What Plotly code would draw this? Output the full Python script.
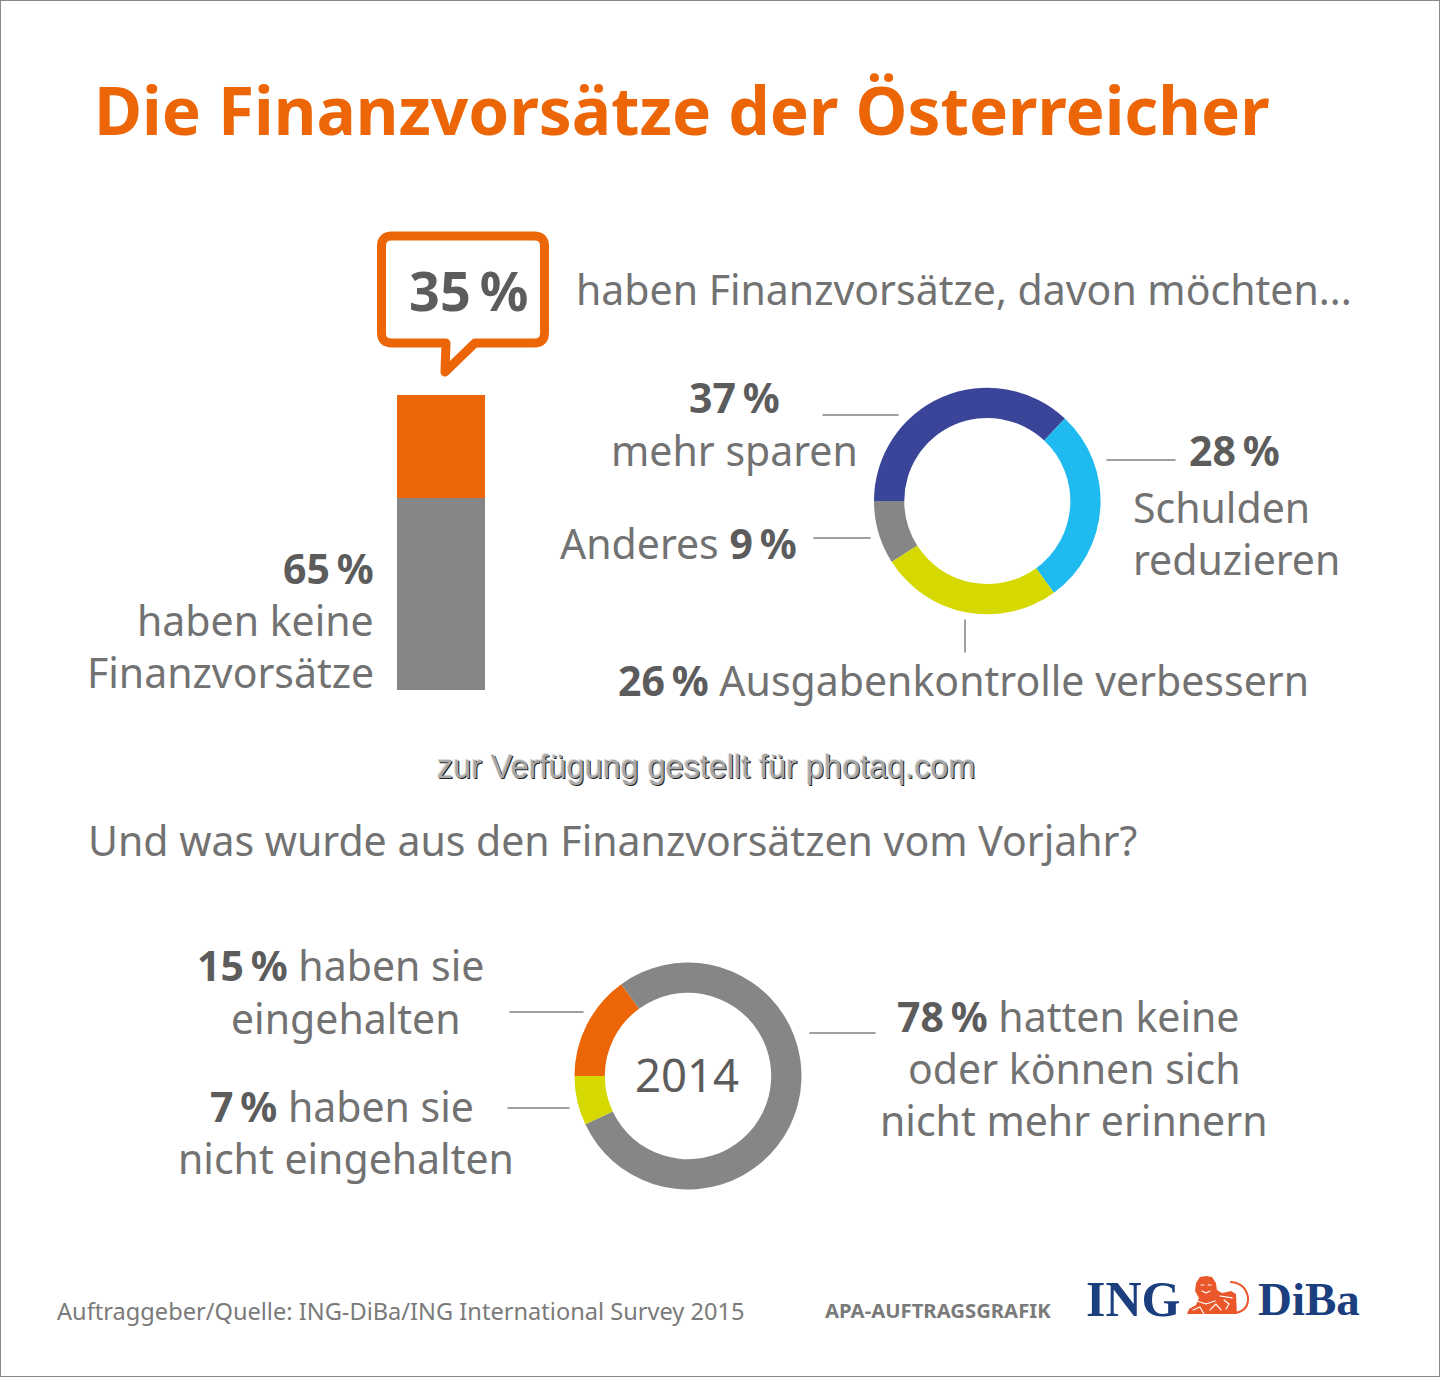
import plotly.graph_objects as go

W = 1440
H = 1377

ORANGE = '#EC6608'
GREY = '#868686'
TEXT = '#727272'
BOLD = '#5c5c5c'
FONT = 'Noto Sans'
LION = '#E9572B'

# stacked bar
bar_labels = ['haben keine Finanzvorsätze', 'haben Finanzvorsätze']
bar_values = [65, 35]
bar_colors = [GREY, ORANGE]

# upper ring
plan_labels = ['mehr sparen', 'Schulden reduzieren', 'Ausgabenkontrolle verbessern', 'Anderes']
plan_values = [37, 28, 26, 9]
plan_colors = ['#3A4498', '#1FBBF0', '#D5D900', GREY]

# lower ring
prev_labels = ['haben sie eingehalten', 'hatten keine oder können sich nicht mehr erinnern', 'haben sie nicht eingehalten']
prev_values = [15, 78, 7]
prev_colors = [ORANGE, GREY, '#D5D900']


def px(x):
    return x / W


def py(y):
    return 1 - y / H


fig = go.Figure()

for label, value, color in zip(bar_labels, bar_values, bar_colors):
    fig.add_trace(go.Bar(x=['Finanzvorsätze'], y=[value], name=label, width=1,
                         marker=dict(color=color, line=dict(width=0)), hoverinfo='skip'))

fig.add_trace(go.Pie(labels=plan_labels, values=plan_values, sort=False, direction='clockwise',
                     rotation=270, hole=0.733, textinfo='none', hoverinfo='label+percent',
                     marker=dict(colors=plan_colors, line=dict(width=0)),
                     domain=dict(x=[px(874), px(1100.6)], y=[py(614.3), py(387.7)])))
fig.add_trace(go.Pie(labels=prev_labels, values=prev_values, sort=False, direction='clockwise',
                     rotation=270, hole=0.733, textinfo='none', hoverinfo='label+percent',
                     marker=dict(colors=prev_colors, line=dict(width=0)),
                     domain=dict(x=[px(574.5), px(801.5)], y=[py(1189.5), py(962.5)])))

annotations = []


def text(x, y, s, size, color=TEXT, anchor='left', family=FONT, shadow=None):
    font = dict(family=family, size=size, color=color)
    if shadow:
        font['shadow'] = shadow
    annotations.append(dict(x=px(x), y=py(y), xref='paper', yref='paper', text=s, showarrow=False,
                            xanchor=anchor, yanchor='middle', font=font))


def b(s):
    return '<b style="color:%s">%s</b>' % (BOLD, s)


text(92, 110, '<b>Die Finanzvorsätze der Österreicher</b>', 65.7, ORANGE)
text(468, 290, '<b>35\u2009%</b>', 54, BOLD, 'center')
text(574, 289, 'haben Finanzvorsätze, davon möchten...', 41)

text(376, 568, b('65\u2009%'), 41, TEXT, 'right')
text(376, 620, 'haben keine', 41, TEXT, 'right')
text(376, 672, 'Finanzvorsätze', 41, TEXT, 'right')

text(734, 397, b('37\u2009%'), 41, TEXT, 'center')
text(734, 450, 'mehr sparen', 41, TEXT, 'center')
text(1187, 450, b('28\u2009%'), 41)
text(1131, 507, 'Schulden', 41)
text(1131, 559, 'reduzieren', 41)
text(799, 543, 'Anderes ' + b('9\u2009%'), 41, TEXT, 'right')
text(616, 680, b('26\u2009%') + ' Ausgabenkontrolle verbessern', 41)

text(435, 767, 'zur Verfügung gestellt für photaq.com', 32.4, '#a8a8a8', family='Liberation Sans',
     shadow='1px 1px 0 #222222, -1px -1px 0 #dddddd')

text(86, 840, 'Und was wurde aus den Finanzvorsätzen vom Vorjahr?', 41)

text(195, 965, b('15\u2009%') + ' haben sie', 41)
text(346, 1018, 'eingehalten', 41, TEXT, 'center')
text(208, 1106, b('7\u2009%') + ' haben sie', 41)
text(346, 1158, 'nicht eingehalten', 41, TEXT, 'center')
text(687, 1074, '2014', 45.5, BOLD, 'center')
text(895, 1016, b('78\u2009%') + ' hatten keine', 41)
text(1074, 1068, 'oder können sich', 41, TEXT, 'center')
text(1074, 1120, 'nicht mehr erinnern', 41, TEXT, 'center')

text(55, 1311, 'Auftraggeber/Quelle: ING-DiBa/ING International Survey 2015', 23.6, '#7a7a7a')
text(823, 1310, '<b>APA-AUFTRAGSGRAFIK</b>', 20.3, '#7a7a7a')
text(1084, 1299, '<b>ING</b>', 50, '#1B3F7E', family='Liberation Serif')
text(1256, 1299, '<b>DiBa</b>', 47, '#1B3F7E', family='Liberation Serif')


def path(points, close=True):
    s = 'M ' + ' L '.join('%.4f %.4f' % (px(x), py(y)) for x, y in points)
    return s + (' Z' if close else '')


shapes = []

# frame
shapes.append(dict(type='rect', xref='paper', yref='paper', x0=0, y0=0, x1=1, y1=1,
                   line=dict(color='#8a8a8a', width=2), fillcolor='rgba(0,0,0,0)'))

# speech bubble
bubble = ('M {a} {t} L {b2} {t} Q {r} {t} {r} {c1} L {r} {c2} Q {r} {bo} {b2} {bo} L {tx2} {bo} '
          'L {tx0} {ty} L {tx1} {bo} L {a} {bo} Q {l} {bo} {l} {c2} L {l} {c1} Q {l} {t} {a} {t} Z').format(
    a=px(392), b2=px(534), l=px(381.5), r=px(544.5), t=py(236), bo=py(343), c1=py(246), c2=py(333),
    tx0=px(445), ty=py(372), tx1=px(446), tx2=px(475))
shapes.append(dict(type='path', xref='paper', yref='paper', path=bubble,
                   line=dict(color=ORANGE, width=9), fillcolor='white'))

# leader lines
for x0, y0, x1, y1 in [(823, 415, 898, 415), (1107, 460, 1175, 460), (814, 538, 870, 538),
                       (965, 620, 965, 652), (510, 1012, 583, 1012), (508, 1108, 569, 1108),
                       (810, 1033, 875, 1033)]:
    shapes.append(dict(type='line', xref='paper', yref='paper', x0=px(x0), y0=py(y0), x1=px(x1), y1=py(y1),
                       line=dict(color='#808080', width=1.5)))

# lion, rough outline for the logo
lion = [(1187, 1314), (1189, 1309), (1196, 1305), (1199, 1298), (1195, 1291), (1196, 1283), (1200, 1277),
        (1206, 1276), (1212, 1277), (1216, 1283), (1217, 1290), (1222, 1293), (1231, 1291), (1236, 1294),
        (1237, 1314)]
shapes.append(dict(type='path', xref='paper', yref='paper', path=path(lion),
                   line=dict(width=0), fillcolor=LION))
tail = 'M %f %f Q %f %f %f %f Q %f %f %f %f' % (px(1236), py(1313), px(1249), py(1310), px(1248), py(1297),
                                                px(1245), py(1283), px(1231), py(1282))
shapes.append(dict(type='path', xref='paper', yref='paper', path=tail,
                   line=dict(color=LION, width=2), fillcolor='rgba(0,0,0,0)'))
# lion face and coat markings
for seg in [[(1201, 1285), (1204, 1285)], [(1208, 1285), (1211, 1285)], [(1202, 1291), (1206, 1293), (1210, 1291)],
            [(1197, 1301), (1206, 1304), (1215, 1301)], [(1193, 1310), (1200, 1307), (1204, 1314)],
            [(1210, 1310), (1216, 1304), (1221, 1310)], [(1224, 1300), (1229, 1304), (1226, 1309)],
            [(1220, 1296), (1232, 1298)]]:
    shapes.append(dict(type='path', xref='paper', yref='paper', path=path(seg, close=False),
                       line=dict(color='white', width=1.2), fillcolor='rgba(0,0,0,0)'))

fig.update_layout(
    width=W, height=H,
    margin=dict(l=0, r=0, t=0, b=0),
    paper_bgcolor='white', plot_bgcolor='white',
    showlegend=False,
    barmode='stack',
    xaxis=dict(domain=[px(397), px(485)], visible=False, fixedrange=True),
    yaxis=dict(domain=[py(690), py(395)], range=[0, 100], visible=False, fixedrange=True),
    annotations=annotations,
    shapes=shapes,
)

# page has a default body margin, the layout above is in page pixels; bubble corners are round
post = ("document.body.style.margin='0';document.documentElement.style.overflow='hidden';"
        "document.querySelectorAll('.shapelayer path').forEach(function(p){p.style.strokeLinejoin='round';p.style.strokeLinecap='round';});")
fig.write_html('out.html', post_script=post, config=dict(displayModeBar=False))
